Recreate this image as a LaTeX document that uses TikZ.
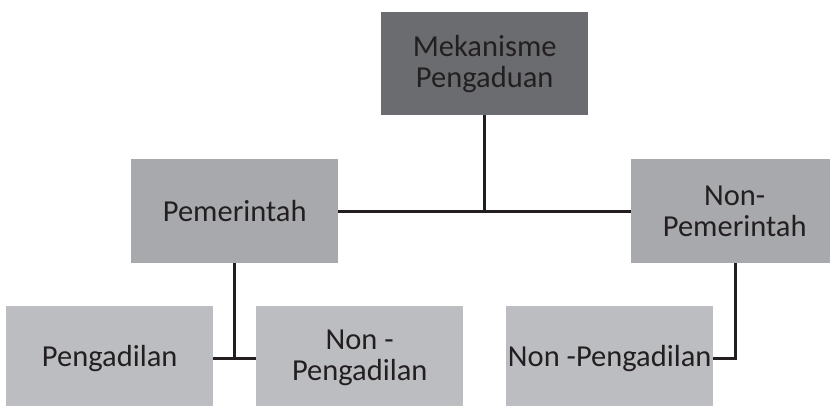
\documentclass[tikz,border=0pt]{standalone}
\usepackage{fontspec}
\setmainfont{Carlito}
\definecolor{darkbox}{HTML}{6B6C70}
\definecolor{midbox}{HTML}{A8A9AD}
\definecolor{lightbox}{HTML}{BCBDC1}
\definecolor{ink}{HTML}{231F20}
\begin{document}
\begin{tikzpicture}[x=1pt,y=-1pt,
  box/.style={rectangle,anchor=north west,minimum width=207pt,inner sep=0pt,align=center,text=ink,font=\fontsize{30.5}{31}\selectfont},
  conn/.style={draw=ink,line width=3pt}]
\useasboundingbox (0,0) rectangle (830,405);
\clip (0,0) rectangle (830,405);
\node[box,fill=darkbox,minimum height=103pt] (top) at (381,12) {Mekanisme\\Pengaduan};
\node[box,fill=midbox,minimum height=104pt] (pem) at (131,159) {Pemerintah};
\node[box,fill=midbox,minimum height=104pt] (npem) at (631,159) {Non-\\Pemerintah};
\node[box,fill=lightbox,minimum height=104pt] (peng) at (6,306) {Pengadilan};
\node[box,fill=lightbox,minimum height=104pt] (npeng) at (256,306) {Non -\\Pengadilan};
\node[box,fill=lightbox,minimum height=104pt] (npeng2) at (506,306) {Non -Pengadilan};
\coordinate (j1) at (top.south |- pem.east);
\coordinate (j2) at ([xshift=-0.5pt]pem.south |- peng.east);
\coordinate (j3) at ([xshift=0.5pt]npem.south |- npeng2.east);
\draw[conn] (top.south) -- (j1);
\draw[conn] (pem.east) -- (npem.west);
\draw[conn] ([xshift=-0.5pt]pem.south) -- (j2);
\draw[conn] (peng.east) -- (npeng.west);
\draw[conn] ([xshift=0.5pt]npem.south) -- (j3) -- (npeng2.east);
\end{tikzpicture}
\end{document}
